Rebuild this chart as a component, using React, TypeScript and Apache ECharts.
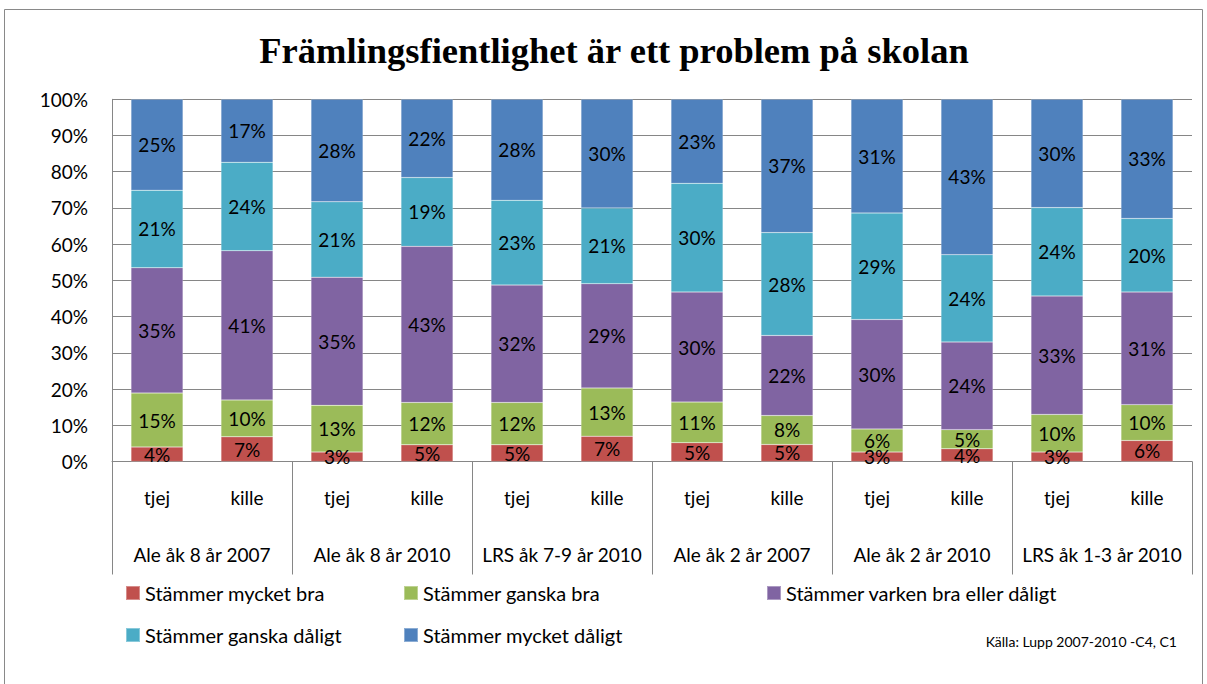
import React, { useEffect, useRef } from 'react';
import * as echarts from 'echarts';

const titleText = 'Främlingsfientlighet är ett problem på skolan';
const sourceText = 'Källa: Lupp 2007-2010 -C4, C1';
const groups = ['Ale åk 8 år 2007', 'Ale åk 8 år 2010', 'LRS åk 7-9 år 2010', 'Ale åk 2 år 2007', 'Ale åk 2 år 2010', 'LRS åk 1-3 år 2010'];
const genders = ['tjej', 'kille', 'tjej', 'kille', 'tjej', 'kille', 'tjej', 'kille', 'tjej', 'kille', 'tjej', 'kille'];
const seriesNames = ['Stämmer mycket bra', 'Stämmer ganska bra', 'Stämmer varken bra eller dåligt', 'Stämmer ganska dåligt', 'Stämmer mycket dåligt'];
const mycketBra = [4.0, 6.8, 2.6, 4.6, 4.6, 7.0, 5.2, 4.7, 2.6, 3.5, 2.6, 5.8];
const ganskaBra = [14.9, 10.2, 12.9, 11.7, 11.7, 13.3, 11.2, 8.0, 6.4, 5.3, 10.4, 9.9];
const varken = [34.6, 41.2, 35.4, 43.1, 32.4, 28.8, 30.4, 22.1, 30.2, 24.2, 32.7, 31.1];
const ganskaDaligt = [21.4, 24.4, 20.8, 19.0, 23.4, 20.9, 30.0, 28.4, 29.4, 24.1, 24.4, 20.3];
const mycketDaligt = [25.1, 17.4, 28.3, 21.6, 27.9, 30.0, 23.2, 36.8, 31.4, 42.9, 29.9, 32.9];
const colors = ['#C0504D', '#9BBB59', '#8064A2', '#4BACC6', '#4F81BD'];

const FONT = 'Lato';

export default function App() {
  const ref = useRef<HTMLDivElement>(null);
  useEffect(() => {
    if (!ref.current) return;
    const chart = echarts.init(ref.current, undefined, { renderer: 'svg' });
    const values = [mycketBra, ganskaBra, varken, ganskaDaligt, mycketDaligt];
    const legendText = { fontFamily: FONT, fontSize: 20, color: '#000' };
    chart.setOption({
      animation: false,
      backgroundColor: '#fff',
      textStyle: { fontFamily: FONT },
      grid: { left: 112, right: 15, top: 99.3, bottom: 222.5 },
      xAxis: [
        {
          type: 'category',
          data: genders,
          position: 'bottom',
          axisLine: { show: true, lineStyle: { color: '#868686', width: 1 } },
          axisTick: { show: false },
          axisLabel: { fontFamily: FONT, fontSize: 19, color: '#000', margin: 26, interval: 0 },
        },
        {
          type: 'category',
          data: groups,
          position: 'bottom',
          axisLine: { show: false },
          axisTick: { show: true, length: 113, interval: 0, lineStyle: { color: '#868686', width: 1 } },
          axisLabel: { fontFamily: FONT, fontSize: 19, color: '#000', margin: 83, interval: 0 },
        },
      ],
      yAxis: {
        type: 'value',
        min: 0,
        max: 100,
        interval: 10,
        axisLine: { show: true, lineStyle: { color: '#868686', width: 1 } },
        axisTick: { show: false },
        splitLine: { show: true, lineStyle: { color: '#868686', width: 1 } },
        axisLabel: { formatter: '{value}%', fontFamily: FONT, fontSize: 19, color: '#000', margin: 24 },
      },
      legend: [
        {
          data: [seriesNames[0], seriesNames[3]],
          orient: 'vertical',
          left: 120,
          top: 578,
          itemWidth: 14,
          itemHeight: 14,
          itemGap: 22,
          icon: 'rect',
          textStyle: legendText,
        },
        {
          data: [seriesNames[1], seriesNames[4]],
          orient: 'vertical',
          left: 398,
          top: 578,
          itemWidth: 14,
          itemHeight: 14,
          itemGap: 22,
          icon: 'rect',
          textStyle: legendText,
        },
        {
          data: [seriesNames[2]],
          orient: 'vertical',
          left: 761,
          top: 578,
          itemWidth: 14,
          itemHeight: 14,
          icon: 'rect',
          textStyle: legendText,
        },
      ],
      graphic: [
        {
          type: 'rect',
          shape: { x: 4.5, y: 9.5, width: 1198, height: 700 },
          style: { fill: 'none', stroke: '#898989', lineWidth: 1 },
          silent: true,
        },
        {
          type: 'text',
          x: 614,
          y: 50,
          style: {
            text: titleText,
            fontFamily: '"Liberation Serif", serif',
            fontWeight: 'bold',
            fontSize: 36.5,
            fill: '#000',
            textAlign: 'center',
            textVerticalAlign: 'middle',
          },
        },
        {
          type: 'text',
          x: 1177,
          y: 641,
          style: {
            text: sourceText,
            fontFamily: FONT,
            fontSize: 14,
            fill: '#000',
            textAlign: 'right',
            textVerticalAlign: 'middle',
          },
        },
      ],
      series: seriesNames.map((name, i) => ({
        name,
        type: 'bar',
        stack: 'total',
        xAxisIndex: 0,
        barWidth: 52,
        data: values[i],
        itemStyle: { color: colors[i], borderColor: 'rgba(255,255,255,0.35)', borderWidth: 0.5 },
        label: {
          show: true,
          position: 'inside',
          formatter: (p: any) => Math.round(p.value) + '%',
          fontFamily: FONT,
          fontSize: 19,
          color: '#000',
        },
      })),
    });
    return () => chart.dispose();
  }, []);
  return (
    <div
      ref={ref}
      style={{ position: 'fixed', left: 0, top: 0, width: 1207, height: 684, background: '#fff' }}
    />
  );
}
